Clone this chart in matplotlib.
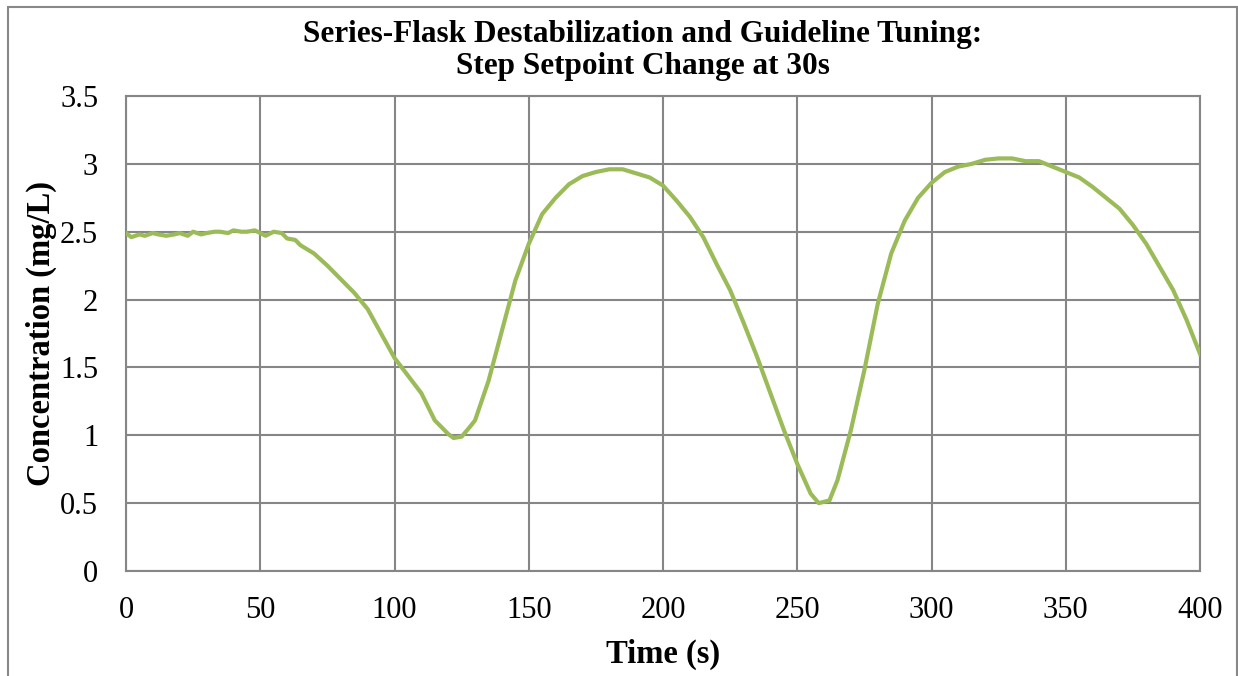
import matplotlib
matplotlib.use("Agg")
import matplotlib.pyplot as plt
from matplotlib.patches import Rectangle

plt.rcParams['font.family'] = ['Liberation Serif', 'DejaVu Serif']

time_s = [0, 2, 5, 7, 10, 12, 15, 18, 20, 23, 25, 28, 30, 33, 35, 38, 40, 43, 45, 48,
          50, 52, 55, 58, 60, 63, 65, 70, 75, 80, 85, 90, 95, 100, 105, 110, 115,
          120, 122, 125, 128, 130, 135, 140, 145, 150, 155, 160, 165, 170, 175,
          180, 185, 190, 195, 200, 205, 210, 215, 220, 225, 230, 235, 240, 245,
          250, 255, 258, 262, 265, 270, 275, 280, 285, 290, 295, 300, 305, 310,
          315, 320, 325, 330, 335, 340, 345, 350, 355, 360, 365, 370, 375, 380,
          385, 390, 395, 400]
concentration = [2.49, 2.46, 2.48, 2.47, 2.49, 2.48, 2.47, 2.48, 2.49, 2.47, 2.50, 2.48,
                 2.49, 2.50, 2.50, 2.49, 2.51, 2.50, 2.50, 2.51,
                 2.49, 2.47, 2.50, 2.49, 2.45, 2.44, 2.40, 2.34, 2.25, 2.15, 2.05, 1.93,
                 1.75, 1.57, 1.44, 1.31, 1.11, 1.01, 0.98, 0.99, 1.06, 1.11, 1.40, 1.77,
                 2.14, 2.41, 2.63, 2.75, 2.85, 2.91, 2.94, 2.96, 2.96, 2.93, 2.90, 2.84,
                 2.73, 2.61, 2.46, 2.26, 2.07, 1.83, 1.58, 1.31, 1.04, 0.79, 0.57, 0.50,
                 0.52, 0.67, 1.04, 1.48, 1.97, 2.34, 2.58, 2.75, 2.86, 2.94, 2.98, 3.00,
                 3.03, 3.04, 3.04, 3.02, 3.02, 2.98, 2.94, 2.90, 2.83, 2.75, 2.67, 2.55,
                 2.41, 2.24, 2.07, 1.85, 1.60]

x_ticks = [0, 50, 100, 150, 200, 250, 300, 350, 400]
y_ticks = [0, 0.5, 1, 1.5, 2, 2.5, 3, 3.5]
y_tick_labels = ['0', '0.5', '1', '1.5', '2', '2.5', '3', '3.5']

W, H = 1238, 676
fig = plt.figure(figsize=(W / 100, H / 100), dpi=100)
ax = fig.add_axes([126 / W, 1 - 571 / H, (1200 - 126) / W, (571 - 96) / H])

grid_color = '#868686'
ax.plot(time_s, concentration, color='#9BBB59', lw=3.0, solid_joinstyle='round', zorder=3)

ax.set_xlim(0, 400)
ax.set_ylim(0, 3.5)
ax.set_xticks(x_ticks)
ax.set_xticklabels([str(t) for t in x_ticks])
ax.set_yticks(y_ticks)
ax.set_yticklabels(y_tick_labels)
ax.grid(True, color=grid_color, lw=1.5)
ax.set_axisbelow(True)
for s in ax.spines.values():
    s.set_color(grid_color)
    s.set_linewidth(1.5)
ax.tick_params(length=0, labelsize=22, colors='black')
ax.tick_params(axis='y', pad=20)
ax.tick_params(axis='x', pad=18)

ax.set_xlabel('Time (s)', fontsize=23.5, fontweight='bold', labelpad=10)
ax.set_ylabel('Concentration (mg/L)', fontsize=23.5, fontweight='bold', labelpad=2)

fig.text(643 / W, 1 - 20 / H,
         'Series-Flask Destabilization and Guideline Tuning:\nStep Setpoint Change at 30s',
         ha='center', va='top', fontsize=22.5, fontweight='bold', linespacing=1.12)

fig.patches.append(Rectangle((8 / W, -0.1), (1237 - 8) / W, 1.1 - 7 / H,
                             transform=fig.transFigure, fill=False,
                             edgecolor='#888888', lw=1.5))

fig.savefig('out.png', dpi=100)
